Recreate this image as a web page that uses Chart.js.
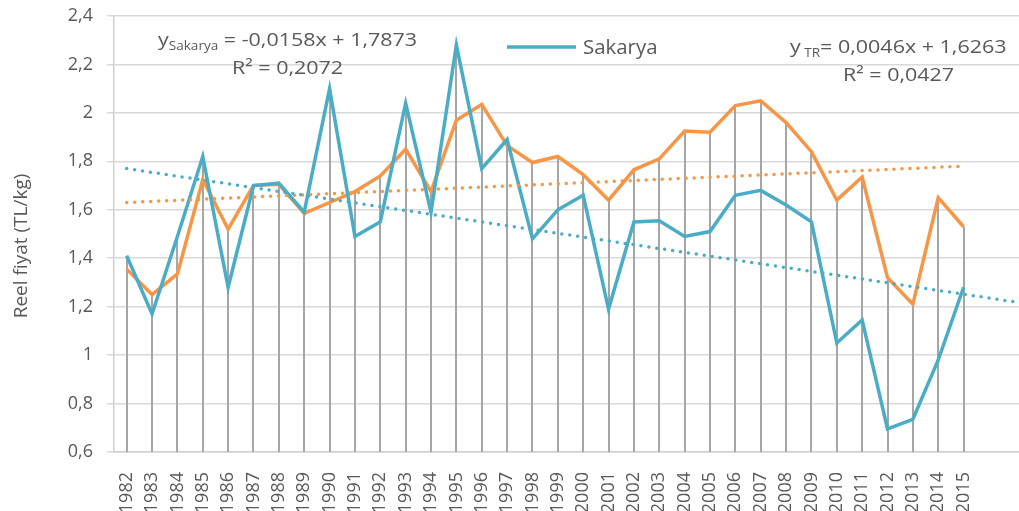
<!DOCTYPE html>
<html>
<head>
<meta charset="utf-8">
<script src="https://cdn.jsdelivr.net/npm/chart.js@4"></script>
<style>
  html, body { margin: 0; padding: 0; background: #fff; overflow: hidden; }
  #wrap { width: 1027px; height: 511px; }
</style>
</head>
<body>
<div id="wrap"><canvas id="chart" width="1027" height="511"></canvas></div>
<script>
// Years (two empty slots at the end for the forward trend)
const years = ['1982', '1983', '1984', '1985', '1986', '1987', '1988', '1989', '1990', '1991',
  '1992', '1993', '1994', '1995', '1996', '1997', '1998', '1999', '2000', '2001',
  '2002', '2003', '2004', '2005', '2006', '2007', '2008', '2009', '2010', '2011',
  '2012', '2013', '2014', '2015', '', ''];

// Real price, TL/kg
const sakarya = [1.41, 1.17, 1.49, 1.82, 1.28, 1.70, 1.71, 1.59, 2.10, 1.49,
  1.55, 2.04, 1.59, 2.28, 1.77, 1.89, 1.48, 1.60, 1.66, 1.19,
  1.55, 1.555, 1.49, 1.51, 1.66, 1.68, 1.62, 1.55, 1.05, 1.145,
  0.695, 0.735, 0.98, 1.28];
const turkiye = [1.355, 1.25, 1.335, 1.725, 1.52, 1.70, 1.705, 1.585, 1.63, 1.675,
  1.74, 1.85, 1.675, 1.97, 2.035, 1.865, 1.795, 1.82, 1.745, 1.64,
  1.765, 1.81, 1.925, 1.92, 2.03, 2.05, 1.96, 1.84, 1.64, 1.735,
  1.32, 1.21, 1.65, 1.53];

// Trend line end points
const sakaryaTrend = [1.77, ...Array(34).fill(null), 1.22];
const turkiyeTrend = [1.63, ...Array(32).fill(null), 1.78];

const yTicks = { min: 0.6, max: 2.4, step: 0.2 };

const textColor = '#595959';
const blue = '#4bacc6';
const orange = '#f79646';

// Grey drop lines from the highest point down to the axis
const dropLines = {
  id: 'dropLines',
  beforeDatasetsDraw(chart) {
    const { ctx, chartArea, scales: { x, y } } = chart;
    ctx.save();
    ctx.strokeStyle = '#a6a6a6';
    ctx.lineWidth = 2;
    sakarya.forEach((v, i) => {
      const top = Math.max(v, turkiye[i]);
      const px = Math.round(x.getPixelForValue(i));
      ctx.beginPath();
      ctx.moveTo(px, y.getPixelForValue(top));
      ctx.lineTo(px, chartArea.bottom);
      ctx.stroke();
    });
    ctx.restore();
  }
};

// text in the picture is a bit wide, so stretch it sideways
function stretched(ctx, x, y, parts, size, k) {
  ctx.save();
  ctx.translate(x, y);
  ctx.scale(k, 1);
  let cx = 0;
  parts.forEach(([t, sub]) => {
    const fs = sub ? Math.round(size * 0.62) : size;
    ctx.font = fs + 'px "Open Sans"';
    ctx.fillText(t, cx, sub ? 4 : 0);
    cx += ctx.measureText(t).width;
  });
  ctx.restore();
}

// Equations, y title and the single legend entry
const labels = {
  id: 'labels',
  afterDraw(chart) {
    const ctx = chart.ctx;
    ctx.save();
    ctx.fillStyle = textColor;
    ctx.textBaseline = 'alphabetic';
    ctx.textAlign = 'left';
    stretched(ctx, 158, 46, [['y'], ['Sakarya', 1], [' = -0,0158x + 1,7873']], 19, 1.13);
    stretched(ctx, 232, 74, [['R² = 0,2072']], 19, 1.13);
    stretched(ctx, 790, 53, [['y'], [' TR', 1], ['= 0,0046x + 1,6263']], 19, 1.13);
    stretched(ctx, 843, 81, [['R² = 0,0427']], 19, 1.13);

    ctx.strokeStyle = blue;
    ctx.lineWidth = 3.5;
    ctx.beginPath();
    ctx.moveTo(507, 47);
    ctx.lineTo(576, 47);
    ctx.stroke();
    stretched(ctx, 583, 54, [['Sakarya']], 20, 1.02);

    ctx.translate(22, 246);
    ctx.rotate(-Math.PI / 2);
    ctx.textAlign = 'center';
    ctx.textBaseline = 'middle';
    ctx.font = '19px "Open Sans"';
    ctx.fillText('Reel fiyat (TL/kg)', 0, 0);
    ctx.restore();
  }
};

new Chart(document.getElementById('chart'), {
  type: 'line',
  data: {
    labels: years,
    datasets: [
      {
        label: 'Sakarya trend',
        data: sakaryaTrend,
        borderColor: blue,
        borderWidth: 3.5,
        borderDash: [0, 8],
        borderCapStyle: 'round',
        spanGaps: true,
        pointRadius: 0,
        order: 0
      },
      {
        label: 'TR trend',
        data: turkiyeTrend,
        borderColor: orange,
        borderWidth: 3.5,
        borderDash: [0, 8],
        borderCapStyle: 'round',
        spanGaps: true,
        pointRadius: 0,
        order: 0
      },
      {
        label: 'Sakarya',
        data: sakarya,
        borderColor: blue,
        borderWidth: 3.5,
        pointRadius: 0,
        tension: 0,
        order: 1
      },
      {
        label: 'TR',
        data: turkiye,
        borderColor: orange,
        borderWidth: 3.5,
        pointRadius: 0,
        tension: 0,
        order: 2
      }
    ]
  },
  options: {
    responsive: false,
    animation: false,
    devicePixelRatio: 1,
    layout: { padding: { left: 0, right: 0, top: 16, bottom: 0 } },
    plugins: {
      legend: { display: false },
      tooltip: { enabled: false }
    },
    scales: {
      x: {
        offset: true,
        grid: { display: false },
        border: { display: true, color: '#d0d0d0', width: 1.5 },
        ticks: {
          autoSkip: false,
          maxRotation: 90,
          minRotation: 90,
          padding: 12,
          color: textColor,
          font: { family: 'Open Sans', size: 18 }
        },
        afterFit(s) { s.height = 59; s.paddingLeft = 0; s.paddingRight = 0; }
      },
      y: {
        min: yTicks.min,
        max: yTicks.max,
        grid: { color: '#d9d9d9', lineWidth: 1.5, tickLength: 7 },
        border: { display: true, color: '#d0d0d0', width: 1.5 },
        ticks: {
          stepSize: yTicks.step,
          padding: 14,
          color: textColor,
          font: { family: 'Open Sans', size: 18 },
          callback: v => String(Math.round(v * 10) / 10).replace('.', ',')
        },
        afterFit(s) { s.width = 114; s.paddingTop = 0; s.paddingBottom = 0; }
      }
    }
  },
  plugins: [dropLines, labels]
});
</script>
</body>
</html>
